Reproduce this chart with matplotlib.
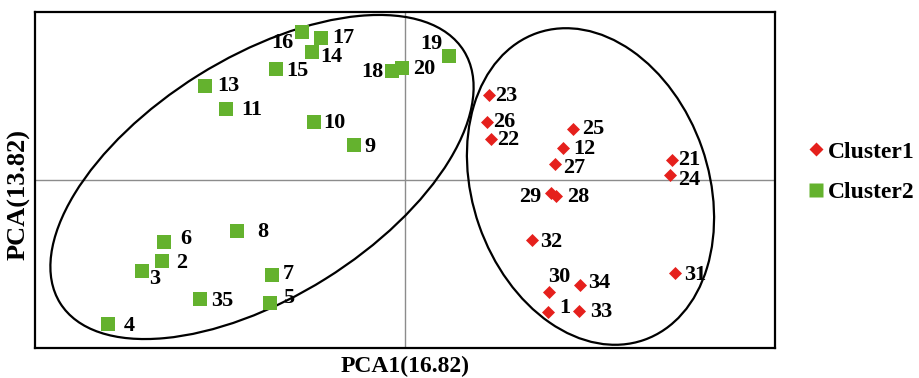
import matplotlib
matplotlib.use("Agg")
import matplotlib.pyplot as plt
from matplotlib.patches import Ellipse
from matplotlib.lines import Line2D

# PCA scores
C1_IDS = [1, 12, 21, 22, 23, 24, 25, 26, 27, 28, 29, 30, 31, 32, 33, 34]
C1_X = [1.43, 1.58, 2.67, 0.86, 0.84, 2.65, 1.68, 0.82, 1.50, 1.51, 1.46, 1.44, 2.70, 1.27, 1.74, 1.75]
C1_Y = [-1.32, 0.32, 0.20, 0.41, 0.85, 0.05, 0.51, 0.58, 0.16, -0.16, -0.13, -1.12, -0.93, -0.60, -1.31, -1.05]

C2_IDS = [2, 3, 4, 5, 6, 7, 8, 9, 10, 11, 13, 14, 15, 16, 17, 18, 19, 20, 35]
C2_X = [-2.43, -2.63, -2.97, -1.35, -2.41, -1.33, -1.68, -0.51, -0.91, -1.79, -2.00,
        -0.93, -1.29, -1.03, -0.84, -0.13, 0.44, -0.03, -2.05]
C2_Y = [-0.81, -0.91, -1.44, -1.23, -0.62, -0.95, -0.51, 0.35, 0.58, 0.71, 0.94,
        1.28, 1.11, 1.48, 1.42, 1.09, 1.24, 1.12, -1.19]

# cluster ellipses: centre, width, height, angle
ELL_C2 = ((-1.43, 0.03), 4.76, 2.40, 32.0)
ELL_C1 = ((1.855, -0.065), 3.25, 2.36, -70.8)

RED = "#e5201c"
GREEN = "#64b22e"

# label placement (pixel offsets right/down, alignment); default is right of marker
LABEL_POS = {
    16: (-8, 11, "right"), 17: (11, 0, "left"), 14: (8, 5, "left"), 15: (10, 2, "left"),
    13: (12, 0, "left"), 11: (15, 1, "left"), 10: (9, 1, "left"), 9: (10, 2, "left"),
    18: (-8, 1, "right"), 20: (11, 1, "left"), 19: (-6, -12, "right"), 8: (20, 1, "left"),
    6: (16, -3, "left"), 2: (14, 2, "left"), 3: (7, 8, "left"), 7: (11, -1, "left"),
    35: (11, 2, "left"), 5: (13, -5, "left"), 4: (16, 2, "left"),
    23: (6, 1, "left"), 26: (6, 0, "left"), 22: (6, 1, "left"), 25: (9, 0, "left"),
    12: (10, 1, "left"), 27: (8, 4, "left"), 21: (6, 0, "left"), 24: (8, 5, "left"),
    29: (-10, 4, "right"), 28: (11, 1, "left"), 32: (8, 2, "left"), 30: (-1, -15, "left"),
    34: (8, -2, "left"), 31: (9, 2, "left"), 1: (11, -4, "left"), 33: (11, 1, "left"),
}

plt.rcParams["font.family"] = ["Liberation Serif", "DejaVu Serif"]
plt.rcParams["font.weight"] = "bold"

fig = plt.figure(figsize=(9.19, 3.78), dpi=100)
ax = fig.add_axes([35 / 919, 30 / 378, 740 / 919, 336 / 378])
ax.set_xlim(-3.70, 3.70)
ax.set_ylim(-1.68, 1.68)

ax.axhline(0, color="#8c8c8c", lw=1.0, zorder=1)
ax.axvline(0, color="#8c8c8c", lw=1.0, zorder=1)

for (cx, cy), w, h, ang in (ELL_C2, ELL_C1):
    ax.add_patch(Ellipse((cx, cy), w, h, angle=ang, fill=False, ec="black", lw=1.6, zorder=2))

ax.scatter(C2_X, C2_Y, marker="s", s=88, c=GREEN, lw=0, zorder=3)
ax.scatter(C1_X, C1_Y, marker="D", s=44, c=RED, lw=0, zorder=3)

for ids, xs, ys in ((C2_IDS, C2_X, C2_Y), (C1_IDS, C1_X, C1_Y)):
    for i, x, y in zip(ids, xs, ys):
        dx, dy, ha = LABEL_POS.get(i, (10, 0, "left"))
        ax.annotate(str(i), (x, y), xytext=(dx * 0.72, -dy * 0.72), textcoords="offset points",
                    ha=ha, va="center", fontsize=16, fontweight="bold", zorder=4)

ax.set_xticks([])
ax.set_yticks([])
for sp in ax.spines.values():
    sp.set_linewidth(1.6)
    sp.set_color("black")

fig.text(405 / 919, 1 - 366 / 378, "PCA1(16.82)", ha="center", va="center",
         fontsize=17, fontweight="bold")
fig.text(19 / 919, 1 - 195 / 378, "PCA(13.82)", ha="center", va="center",
         rotation=90, fontsize=19, fontweight="bold")

handles = [
    Line2D([], [], ls="none", marker="D", ms=7.5, mfc=RED, mec="none"),
    Line2D([], [], ls="none", marker="s", ms=9.5, mfc=GREEN, mec="none"),
]
fig.legend(handles, ["Cluster1", "Cluster2"], loc="center left",
           bbox_to_anchor=(810 / 919, 1 - 172 / 378), frameon=False,
           prop={"size": 17, "weight": "bold"}, handlelength=0.55,
           handletextpad=0.2, labelspacing=0.8, borderpad=0, borderaxespad=0)

fig.savefig("out.png", dpi=100)
